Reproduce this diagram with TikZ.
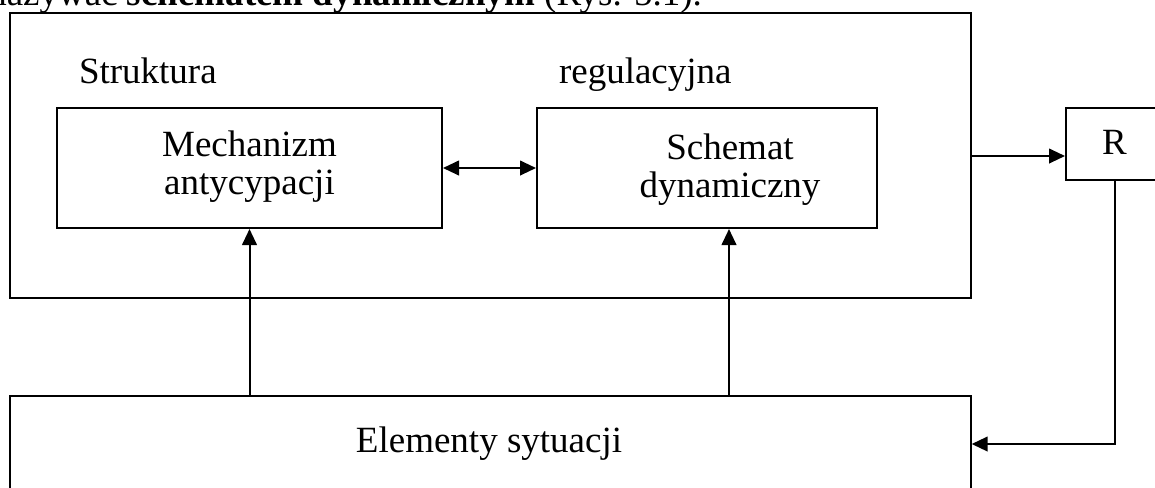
\documentclass[tikz,border=0pt]{standalone}
\usepackage{fontspec}
\setmainfont{Liberation Serif}
\usetikzlibrary{arrows.meta}
\begin{document}
\begin{tikzpicture}[x=0.75pt,y=-0.75pt, line width=1.5pt,
  box/.style={draw, rectangle, inner sep=0pt},
  lbl/.style={font=\fontsize{27.75}{34}\selectfont, inner sep=0pt, anchor=base},
  arr/.style={-{Triangle[length=12pt,width=11pt]}},
  darr/.style={{Triangle[length=12pt,width=11pt]}-{Triangle[length=12pt,width=11pt]}}]
\clip (0,0) rectangle (1155,487);
% top (cut-off) text line
\node[lbl, anchor=base east] (top) at (703,5) {nazywać \textbf{schematem dynamicznym} (Rys. 5.1).};
% boxes
\node[box, minimum width=720.5pt, minimum height=214pt] (outer) at (490.35,155.35) {};
\node[box, minimum width=288.75pt, minimum height=90pt] (mech) at (249.5,168) {};
\node[box, minimum width=255pt, minimum height=90pt] (schem) at (707,168) {};
\node[box, minimum width=72.75pt, minimum height=54pt] (R) at (1114.5,144) {};
\node[box, minimum width=720.5pt, minimum height=93pt] (bottom) at (490.35,458) {};
% texts
\node[lbl, anchor=base west] (struk) at (78,83) {Struktura};
\node[lbl, anchor=base west] (regul) at (558,83) {regulacyjna};
\node[lbl] (mech1) at (249.5,156) {Mechanizm};
\node[lbl] (mech2) at (249.5,194) {antycypacji};
\node[lbl] (sch1) at (730,159) {Schemat};
\node[lbl] (sch2) at (730,197) {dynamiczny};
\node[lbl] (Rt) at (1114.5,154) {R};
\node[lbl] (elem) at (489,452) {Elementy sytuacji};
% connectors
\coordinate (ay) at (0,156);
\coordinate (sx) at (729,0);
\coordinate (fy) at (0,444);
\draw[darr] (mech.east) -- (schem.west);
\draw[arr] (outer.east |- ay) -- (R.west |- ay);
\draw[arr] (bottom.north -| mech.south) -- (mech.south);
\draw[arr] (bottom.north -| sx) -- (schem.south -| sx);
\draw[arr] (R.south) -- (R.south |- fy) -- (bottom.east |- fy);
\end{tikzpicture}
\end{document}
